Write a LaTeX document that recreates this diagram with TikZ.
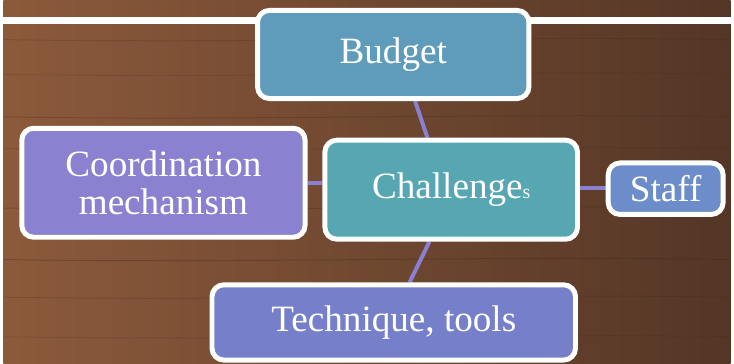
\documentclass[tikz,border=0pt]{standalone}
\usepackage{fontspec}
\setmainfont{Liberation Serif}
\usetikzlibrary{calc}
\pgfdeclarelayer{bottom}
\pgfdeclarelayer{links}
\pgfsetlayers{bottom,links,main}
\definecolor{woodL}{HTML}{8C5A3B}
\definecolor{woodR}{HTML}{543626}
\definecolor{grain}{HTML}{3A2418}
\definecolor{cBudget}{HTML}{5F9BBB}
\definecolor{cChal}{HTML}{56A7B1}
\definecolor{cCoord}{HTML}{8A81D0}
\definecolor{cStaff}{HTML}{6C8DC9}
\definecolor{cTech}{HTML}{7680CA}
\definecolor{cLink}{HTML}{8A80D2}
\tikzset{
  box/.style={draw=white, line width=5pt, rounded corners=12pt, inner sep=0pt,
    text=white, align=center, font=\fontsize{37.5}{39}\selectfont},
  link/.style={draw=cLink, line width=4pt}
}
\begin{document}
\begin{tikzpicture}[x=1pt,y=-1pt]
\begin{pgfonlayer}{bottom}
  \shade[left color=woodL, right color=woodR] (0,0) rectangle (734,367);
  \foreach \yy/\op in {40/0.2,75/0.15,118/0.25,150/0.15,210/0.25,262/0.3,300/0.2,340/0.15}{
    \draw[grain, opacity=\op, line width=1pt] (0,\yy) .. controls (250,\yy+4) and (500,\yy-4) .. (734,\yy);
  }
  \draw[white, line width=7pt] (0,21) -- (734,21);
\end{pgfonlayer}
\useasboundingbox (0,0) rectangle (734,367);
\node[box, fill=cBudget, minimum width=274pt, minimum height=89pt] (budget) at (393.5,55) {Budget};
\node[box, fill=cChal, minimum width=255pt, minimum height=100pt] (chal) at (452,191.5) {Challenge{\fontsize{20}{20}\selectfont s}};
\node[box, fill=cCoord, minimum width=286pt, minimum height=110pt] (coord) at (161.5,184.5) {Coordination\\mechanism};
\node[box, fill=cStaff, minimum width=116pt, minimum height=52pt] (staff) at (668.5,190.5) {Staff};
\node[box, fill=cTech, minimum width=367pt, minimum height=76pt] (tech) at (394,325.5) {Technique, tools};
\begin{pgfonlayer}{links}
  \draw[link] ($(budget.south)+(22,0)$) -- ($(chal.north)+(-24,0)$);
  \draw[link] ($(chal.south)+(-22,0)$) -- ($(tech.north)+(16,0)$);
  \draw[link] (coord.east |- 0,185) -- (chal.west |- 0,185);
  \draw[link] (chal.east |- 0,190) -- (staff.west |- 0,190);
\end{pgfonlayer}
\end{tikzpicture}
\end{document}
